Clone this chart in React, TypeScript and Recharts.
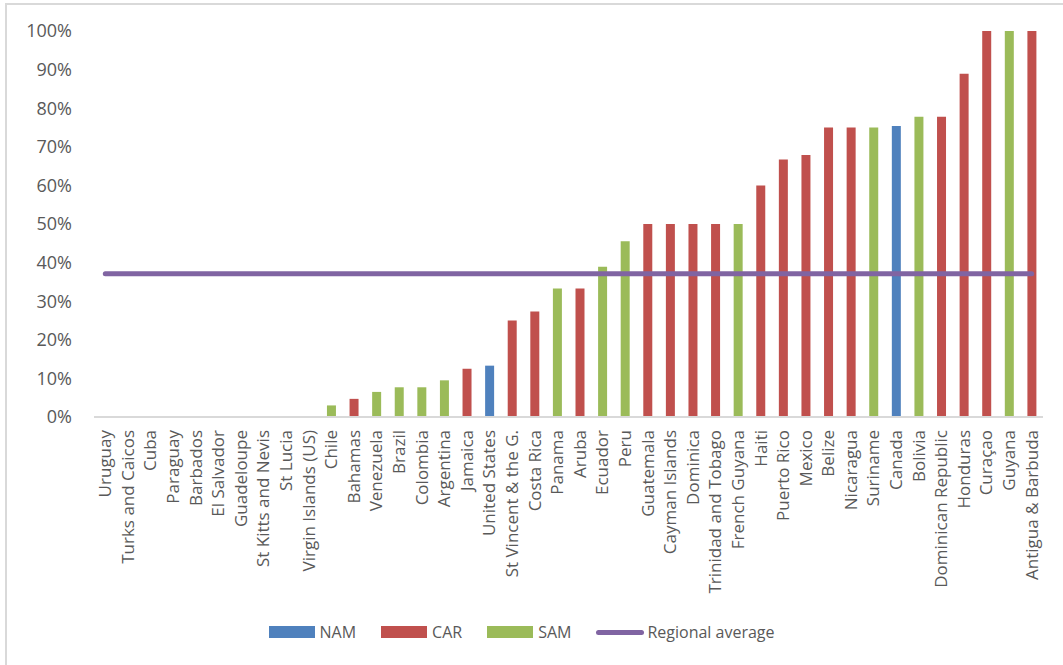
import React from 'react'
import {
  ComposedChart,
  Bar,
  Line,
  Cell,
  XAxis,
  YAxis,
  Legend,
} from 'recharts'

const countries = [
  'Uruguay', 'Turks and Caicos', 'Cuba', 'Paraguay', 'Barbados', 'El Salvador',
  'Guadeloupe', 'St Kitts and Nevis', 'St Lucia', 'Virgin Islands (US)', 'Chile',
  'Bahamas', 'Venezuela', 'Brazil', 'Colombia', 'Argentina', 'Jamaica',
  'United States', 'St Vincent & the G.', 'Costa Rica', 'Panama', 'Aruba',
  'Ecuador', 'Peru', 'Guatemala', 'Cayman Islands', 'Dominica',
  'Trinidad and Tobago', 'French Guyana', 'Haiti', 'Puerto Rico', 'Mexico',
  'Belize', 'Nicaragua', 'Suriname', 'Canada', 'Bolivia', 'Dominican Republic',
  'Honduras', 'Curaçao', 'Guyana', 'Antigua & Barbuda',
]

const regions = [
  'SAM', 'CAR', 'CAR', 'SAM', 'CAR', 'CAR',
  'CAR', 'CAR', 'CAR', 'CAR', 'SAM',
  'CAR', 'SAM', 'SAM', 'SAM', 'SAM', 'CAR',
  'NAM', 'CAR', 'CAR', 'SAM', 'CAR',
  'SAM', 'SAM', 'CAR', 'CAR', 'CAR',
  'CAR', 'SAM', 'CAR', 'CAR', 'CAR',
  'CAR', 'CAR', 'SAM', 'NAM', 'SAM', 'CAR',
  'CAR', 'CAR', 'SAM', 'CAR',
]

const shares = [
  0, 0, 0, 0, 0, 0,
  0, 0, 0, 0, 3,
  4.7, 6.5, 7.7, 7.7, 9.5, 12.5,
  13.3, 25, 27.3, 33.3, 33.3,
  38.9, 45.5, 50, 50, 50,
  50, 50, 60, 66.7, 67.9,
  75, 75, 75, 75.4, 77.8, 77.8,
  88.9, 100, 100, 100,
]

const regionalAverage = 37.1

const yTicks = [0, 10, 20, 30, 40, 50, 60, 70, 80, 90, 100]

const regionColors = { NAM: '#4F81BD', CAR: '#C0504D', SAM: '#9BBB59' }
const avgColor = '#8064A2'
const textColor = '#595959'

const data = countries.map((country, i) => ({
  country,
  region: regions[i],
  share: shares[i],
  avg: regionalAverage,
}))

const CountryTick = ({ x, y, payload }: any) => (
  <g transform={`translate(${x},${y})`}>
    <text
      transform="rotate(-90)"
      x={-5}
      dy="0.35em"
      textAnchor="end"
      fill={textColor}
      fontSize={17}
    >
      {payload.value}
    </text>
  </g>
)

const ChartLegend = () => {
  const items = [
    { label: 'NAM', color: regionColors.NAM },
    { label: 'CAR', color: regionColors.CAR },
    { label: 'SAM', color: regionColors.SAM },
  ]
  return (
    <div
      style={{
        height: 66,
        display: 'flex',
        alignItems: 'center',
        justifyContent: 'center',
        color: textColor,
        fontSize: 16,
      }}
    >
      {items.map((it) => (
        <div key={it.label} style={{ display: 'flex', alignItems: 'center', marginRight: 25 }}>
          <span style={{ width: 46, height: 12, background: it.color, marginRight: 5 }} />
          <span>{it.label}</span>
        </div>
      ))}
      <div style={{ display: 'flex', alignItems: 'center' }}>
        <span
          style={{ width: 48, height: 5, borderRadius: 3, background: avgColor, marginRight: 3 }}
        />
        <span>Regional average</span>
      </div>
    </div>
  )
}

export default function App() {
  return (
    <div
      style={{
        position: 'absolute',
        left: 0,
        top: 0,
        width: 1063,
        height: 665,
        overflow: 'hidden',
        background: '#fff',
        fontFamily: '"Open Sans", sans-serif',
      }}
    >
      <div
        style={{
          position: 'absolute',
          left: 5,
          top: 3,
          width: 1100,
          height: 700,
          border: '2px solid #D9D9D9',
        }}
      />
      <div style={{ position: 'absolute', left: 0, top: 0 }}>
        <ComposedChart
          width={1063}
          height={665}
          data={data}
          margin={{ top: 31, right: 20, left: 0, bottom: 0 }}
        >
          <XAxis
            dataKey="country"
            interval={0}
            height={182}
            tick={<CountryTick />}
            tickLine={false}
            axisLine={{ stroke: '#D9D9D9', strokeWidth: 2 }}
          />
          <YAxis
            domain={[0, 100]}
            ticks={yTicks}
            tickFormatter={(v) => `${v}%`}
            width={94}
            axisLine={false}
            tickLine={false}
            tickSize={0}
            tickMargin={22}
            tick={{ fill: textColor, fontSize: 18 }}
          />
          <Bar dataKey="share" barSize={9} isAnimationActive={false}>
            {data.map((d) => (
              <Cell key={d.country} fill={regionColors[d.region as keyof typeof regionColors]} />
            ))}
          </Bar>
          <Line
            type="linear"
            dataKey="avg"
            stroke={avgColor}
            strokeWidth={5}
            strokeLinecap="round"
            dot={false}
            activeDot={false}
            isAnimationActive={false}
          />
          <Legend verticalAlign="bottom" content={<ChartLegend />} />
        </ComposedChart>
      </div>
    </div>
  )
}
